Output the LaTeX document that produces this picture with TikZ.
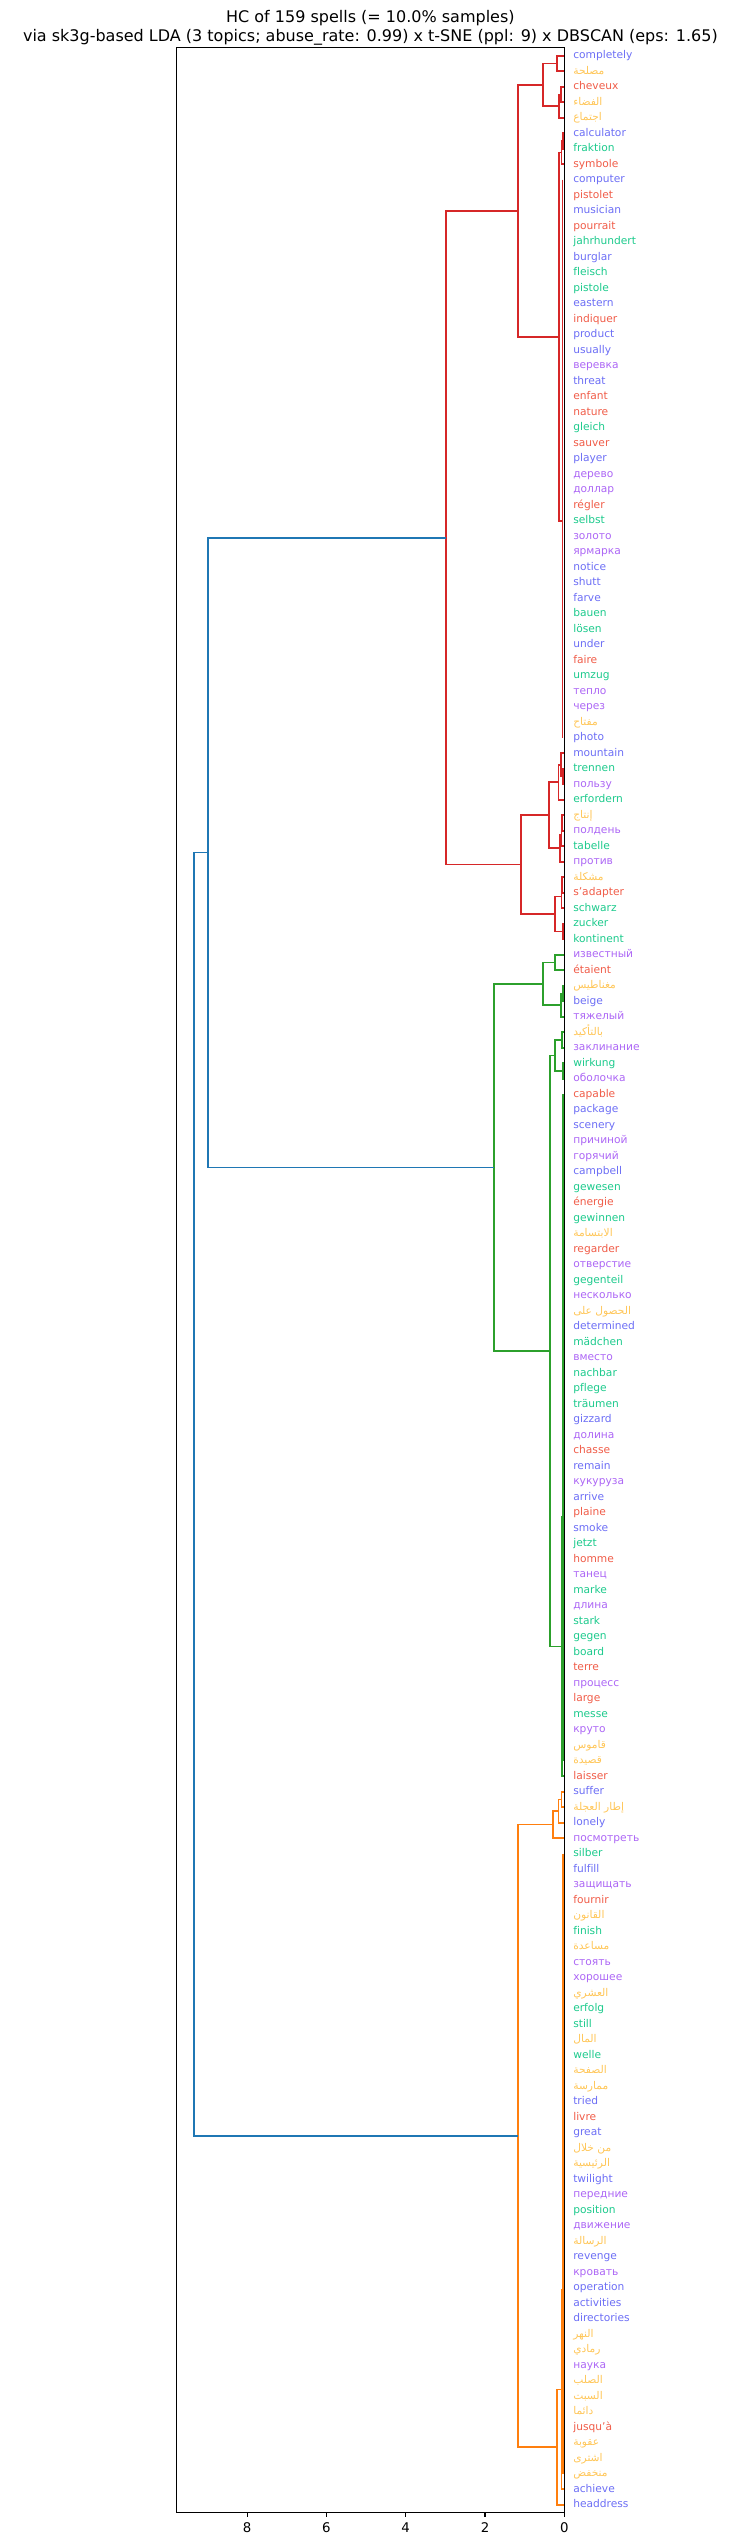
\documentclass[tikz,border=0pt]{standalone}
\usepackage{fontspec}
\setmainfont{DejaVu Sans}[Ligatures=NoCommon]
\newfontfamily\arabicfont[Script=Arabic]{DejaVu Sans}
\TeXXeTstate=1
\definecolor{cEN}{RGB}{108,110,245}
\definecolor{cRU}{RGB}{172,102,245}
\definecolor{cFR}{RGB}{240,92,72}
\definecolor{cDE}{RGB}{28,202,140}
\definecolor{cAR}{RGB}{255,198,88}
\definecolor{lkR}{HTML}{D62728}
\definecolor{lkG}{HTML}{2CA02C}
\definecolor{lkO}{HTML}{FF7F0E}
\definecolor{lkB}{HTML}{1F77B4}
\newcommand\dlink[4]{\draw[#1] (#2) -- (#2 -| #3) -- (#4 -| #3) -- (#4);}
\newcommand\dcomb[4]{\draw[#1] (#2 -| #4) -- (#3 -| #4);}
\newcommand\arw[1]{{\arabicfont\beginR #1\endR}}
\newcommand\lab[3]{\node[lbl,text=#2] (t#1) at (lf#1 -| labx) {#3};}
\begin{document}
\begin{tikzpicture}[x={(-29.7375pt,0pt)}, y={(0pt,-11.625pt)},
  lbl/.style={anchor=west, inner sep=0pt, font=\fontsize{8pt}{9.6pt}\selectfont, text height=6.08pt, text depth=1.84pt},
  lk/.style={line width=1.25pt, line cap=butt, line join=miter},
  rr/.style={lk, lkR}, gg/.style={lk, lkG}, oo/.style={lk, lkO}, bb/.style={lk, lkB},
  tick/.style={line width=0.8pt},
  ticklab/.style={font=\fontsize{10pt}{12pt}\selectfont, inner sep=0pt},
  ttl/.style={font=\fontsize{12pt}{14pt}\selectfont, inner sep=0pt, anchor=base}]
\useasboundingbox (14.232,-2.594) rectangle (-4.406,161.6);
% title
\node[ttl] (title1) at (4.89,-1.148) {HC of 159 spells (= 10.0\% samples)};
\node[ttl] (title2) at (4.89,0.0516) {via sk3g-based LDA (3 topics; abuse\_rate: 0.99) x t-SNE (ppl: 9) x DBSCAN (eps: 1.65)};
% leaves
\foreach \i in {1,...,159} \coordinate (lf\i) at (0,\i);
\coordinate (labx) at (-0.22,0);
% merge points
\coordinate (ra) at (0.18,1.5);
\coordinate (rb) at (0.08,3.5);
\coordinate (rc) at (0.13,4.25);
\coordinate (rd) at (0.545,2.875);
\coordinate (rA1) at (0.04,6.5);
\coordinate (rA) at (0.07,7.25);
\coordinate (rB) at (0.042,31.04);
\coordinate (rAB) at (0.14,19.145);
\coordinate (rR1) at (1.175,11.01);
\coordinate (a1) at (0.03,47.5);
\coordinate (a2) at (0.09,46.75);
\coordinate (ra3) at (0.15,47.875);
\coordinate (b1) at (0.06,50.5);
\coordinate (b2) at (0.07,51.25);
\coordinate (bq) at (0.11,52.125);
\coordinate (rL1) at (0.385,50);
\coordinate (c1a) at (0.05,54.5);
\coordinate (c1) at (0.07,55.25);
\coordinate (c2) at (0.04,57.5);
\coordinate (rL2) at (0.23,56.375);
\coordinate (rL) at (1.10,53.1875);
\coordinate (rTop) at (2.99,32.099);
\coordinate (G1a) at (0.23,59.5);
\coordinate (G1b1) at (0.03,61.5);
\coordinate (G1b) at (0.08,62.25);
\coordinate (G1) at (0.545,60.875);
\coordinate (G2a1) at (0.05,64.5);
\coordinate (G2a2) at (0.04,66.5);
\coordinate (G2a) at (0.23,65.5);
\coordinate (g3) at (0.03,95.26);
\coordinate (G2b) at (0.05,103.63);
\coordinate (G2) at (0.36,84.565);
\coordinate (gTop) at (1.774,72.72);
\coordinate (o1) at (0.07,113.5);
\coordinate (o2) at (0.15,114.25);
\coordinate (O1) at (0.28,115.125);
\coordinate (O2b) at (0.04,145.15);
\coordinate (O2a) at (0.07,151.575);
\coordinate (O2) at (0.19,155.29);
\coordinate (oTop) at (1.175,135.21);
\coordinate (bRG) at (8.98,52.41);
\coordinate (root) at (9.34,93.81);
% red cluster
\dlink{rr}{lf1}{ra}{lf2}
\dlink{rr}{lf3}{rb}{lf4}
\dlink{rr}{rb}{rc}{lf5}
\dlink{rr}{ra}{rd}{rc}
\dlink{rr}{lf6}{rA1}{lf7}
\dlink{rr}{rA1}{rA}{lf8}
\dcomb{rr}{lf9}{lf45}{rB}
\dlink{rr}{rA}{rAB}{rB}
\dlink{rr}{rd}{rR1}{rAB}
\dlink{rr}{lf47}{a1}{lf48}
\dlink{rr}{lf46}{a2}{a1}
\dlink{rr}{a2}{ra3}{lf49}
\dlink{rr}{lf50}{b1}{lf51}
\dlink{rr}{b1}{b2}{lf52}
\dlink{rr}{b2}{bq}{lf53}
\dlink{rr}{ra3}{rL1}{bq}
\dlink{rr}{lf54}{c1a}{lf55}
\dlink{rr}{c1a}{c1}{lf56}
\dlink{rr}{lf57}{c2}{lf58}
\dlink{rr}{c1}{rL2}{c2}
\dlink{rr}{rL1}{rL}{rL2}
\dlink{rr}{rR1}{rTop}{rL}
% green cluster
\dlink{gg}{lf59}{G1a}{lf60}
\dlink{gg}{lf61}{G1b1}{lf62}
\dlink{gg}{G1b1}{G1b}{lf63}
\dlink{gg}{G1a}{G1}{G1b}
\dlink{gg}{lf64}{G2a1}{lf65}
\dlink{gg}{lf66}{G2a2}{lf67}
\dlink{gg}{G2a1}{G2a}{G2a2}
\dcomb{gg}{lf68}{lf111}{g3}
\dlink{gg}{g3}{G2b}{lf112}
\dlink{gg}{G2a}{G2}{G2b}
\dlink{gg}{G1}{gTop}{G2}
% orange cluster
\dlink{oo}{lf113}{o1}{lf114}
\dlink{oo}{o1}{o2}{lf115}
\dlink{oo}{o2}{O1}{lf116}
\dcomb{oo}{lf117}{lf157}{O2b}
\dlink{oo}{O2b}{O2a}{lf158}
\dlink{oo}{O2a}{O2}{lf159}
\dlink{oo}{O1}{oTop}{O2}
% top links
\dlink{bb}{rTop}{bRG}{gTop}
\dlink{bb}{bRG}{root}{oTop}
% frame and ticks
\draw[line width=0.8pt] (9.78,0.5) rectangle (0,159.5);
\foreach \t in {0,2,4,6,8} {
  \draw[tick] (\t,159.5) -- ++(0pt,-3.5pt);
  \node[ticklab] (tk\t) at (\t,160.45) {\t};
}
% leaf labels
\lab{1}{cEN}{completely}
\lab{2}{cAR}{\arw{مصلحة}}
\lab{3}{cFR}{cheveux}
\lab{4}{cAR}{\arw{الفضاء}}
\lab{5}{cAR}{\arw{اجتماع}}
\lab{6}{cEN}{calculator}
\lab{7}{cDE}{fraktion}
\lab{8}{cFR}{symbole}
\lab{9}{cEN}{computer}
\lab{10}{cFR}{pistolet}
\lab{11}{cEN}{musician}
\lab{12}{cFR}{pourrait}
\lab{13}{cDE}{jahrhundert}
\lab{14}{cEN}{burglar}
\lab{15}{cDE}{fleisch}
\lab{16}{cDE}{pistole}
\lab{17}{cEN}{eastern}
\lab{18}{cFR}{indiquer}
\lab{19}{cEN}{product}
\lab{20}{cEN}{usually}
\lab{21}{cRU}{веревка}
\lab{22}{cEN}{threat}
\lab{23}{cFR}{enfant}
\lab{24}{cFR}{nature}
\lab{25}{cDE}{gleich}
\lab{26}{cFR}{sauver}
\lab{27}{cEN}{player}
\lab{28}{cRU}{дерево}
\lab{29}{cRU}{доллар}
\lab{30}{cFR}{régler}
\lab{31}{cDE}{selbst}
\lab{32}{cRU}{золото}
\lab{33}{cRU}{ярмарка}
\lab{34}{cEN}{notice}
\lab{35}{cEN}{shutt}
\lab{36}{cEN}{farve}
\lab{37}{cDE}{bauen}
\lab{38}{cDE}{lösen}
\lab{39}{cEN}{under}
\lab{40}{cFR}{faire}
\lab{41}{cDE}{umzug}
\lab{42}{cRU}{тепло}
\lab{43}{cRU}{через}
\lab{44}{cAR}{\arw{مفتاح}}
\lab{45}{cEN}{photo}
\lab{46}{cEN}{mountain}
\lab{47}{cDE}{trennen}
\lab{48}{cRU}{пользу}
\lab{49}{cDE}{erfordern}
\lab{50}{cAR}{\arw{إنتاج}}
\lab{51}{cRU}{полдень}
\lab{52}{cDE}{tabelle}
\lab{53}{cRU}{против}
\lab{54}{cAR}{\arw{مشكلة}}
\lab{55}{cFR}{s’adapter}
\lab{56}{cDE}{schwarz}
\lab{57}{cDE}{zucker}
\lab{58}{cDE}{kontinent}
\lab{59}{cRU}{известный}
\lab{60}{cFR}{étaient}
\lab{61}{cAR}{\arw{مغناطيس}}
\lab{62}{cEN}{beige}
\lab{63}{cRU}{тяжелый}
\lab{64}{cAR}{\arw{بالتأكيد}}
\lab{65}{cRU}{заклинание}
\lab{66}{cDE}{wirkung}
\lab{67}{cRU}{оболочка}
\lab{68}{cFR}{capable}
\lab{69}{cEN}{package}
\lab{70}{cEN}{scenery}
\lab{71}{cRU}{причиной}
\lab{72}{cRU}{горячий}
\lab{73}{cEN}{campbell}
\lab{74}{cDE}{gewesen}
\lab{75}{cFR}{énergie}
\lab{76}{cDE}{gewinnen}
\lab{77}{cAR}{\arw{الابتسامة}}
\lab{78}{cFR}{regarder}
\lab{79}{cRU}{отверстие}
\lab{80}{cDE}{gegenteil}
\lab{81}{cRU}{несколько}
\lab{82}{cAR}{\arw{الحصول على}}
\lab{83}{cEN}{determined}
\lab{84}{cDE}{mädchen}
\lab{85}{cRU}{вместо}
\lab{86}{cDE}{nachbar}
\lab{87}{cDE}{pflege}
\lab{88}{cDE}{träumen}
\lab{89}{cEN}{gizzard}
\lab{90}{cRU}{долина}
\lab{91}{cFR}{chasse}
\lab{92}{cEN}{remain}
\lab{93}{cRU}{кукуруза}
\lab{94}{cEN}{arrive}
\lab{95}{cFR}{plaine}
\lab{96}{cEN}{smoke}
\lab{97}{cDE}{jetzt}
\lab{98}{cFR}{homme}
\lab{99}{cRU}{танец}
\lab{100}{cDE}{marke}
\lab{101}{cRU}{длина}
\lab{102}{cDE}{stark}
\lab{103}{cDE}{gegen}
\lab{104}{cDE}{board}
\lab{105}{cFR}{terre}
\lab{106}{cRU}{процесс}
\lab{107}{cFR}{large}
\lab{108}{cDE}{messe}
\lab{109}{cRU}{круто}
\lab{110}{cAR}{\arw{قاموس}}
\lab{111}{cAR}{\arw{قصيدة}}
\lab{112}{cFR}{laisser}
\lab{113}{cEN}{suffer}
\lab{114}{cAR}{\arw{إطار العجلة}}
\lab{115}{cEN}{lonely}
\lab{116}{cRU}{посмотреть}
\lab{117}{cDE}{silber}
\lab{118}{cEN}{fulfill}
\lab{119}{cRU}{защищать}
\lab{120}{cFR}{fournir}
\lab{121}{cAR}{\arw{القانون}}
\lab{122}{cDE}{finish}
\lab{123}{cAR}{\arw{مساعدة}}
\lab{124}{cRU}{стоять}
\lab{125}{cRU}{хорошее}
\lab{126}{cAR}{\arw{العشري}}
\lab{127}{cDE}{erfolg}
\lab{128}{cDE}{still}
\lab{129}{cAR}{\arw{المال}}
\lab{130}{cDE}{welle}
\lab{131}{cAR}{\arw{الصفحة}}
\lab{132}{cAR}{\arw{ممارسة}}
\lab{133}{cEN}{tried}
\lab{134}{cFR}{livre}
\lab{135}{cEN}{great}
\lab{136}{cAR}{\arw{من خلال}}
\lab{137}{cAR}{\arw{الرئيسية}}
\lab{138}{cEN}{twilight}
\lab{139}{cRU}{передние}
\lab{140}{cDE}{position}
\lab{141}{cRU}{движение}
\lab{142}{cAR}{\arw{الرسالة}}
\lab{143}{cEN}{revenge}
\lab{144}{cRU}{кровать}
\lab{145}{cEN}{operation}
\lab{146}{cEN}{activities}
\lab{147}{cEN}{directories}
\lab{148}{cAR}{\arw{النهر}}
\lab{149}{cAR}{\arw{رمادي}}
\lab{150}{cRU}{наука}
\lab{151}{cAR}{\arw{الصلب}}
\lab{152}{cAR}{\arw{السبت}}
\lab{153}{cAR}{\arw{دائما}}
\lab{154}{cFR}{jusqu’à}
\lab{155}{cAR}{\arw{عقوبة}}
\lab{156}{cAR}{\arw{اشترى}}
\lab{157}{cAR}{\arw{منخفض}}
\lab{158}{cEN}{achieve}
\lab{159}{cEN}{headdress}
\end{tikzpicture}
\end{document}
